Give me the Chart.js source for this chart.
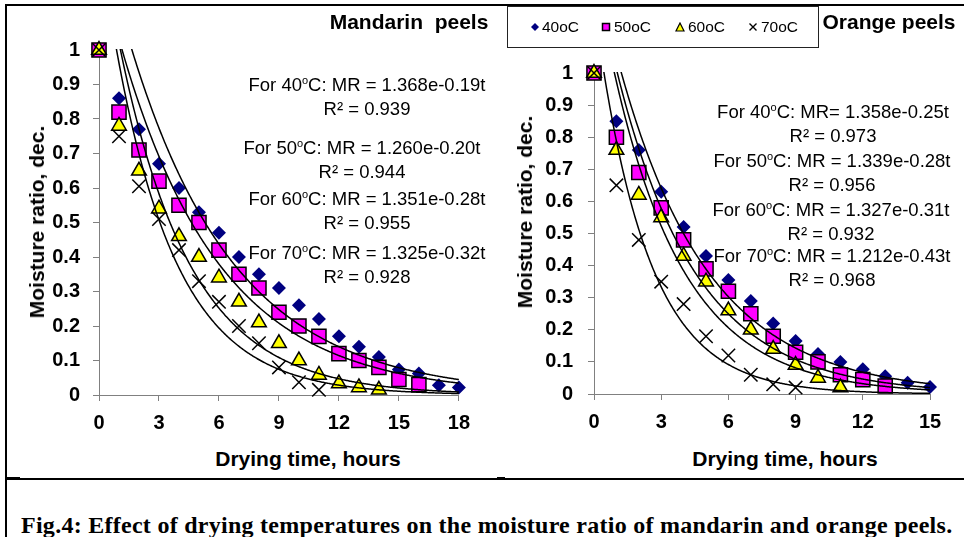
<!DOCTYPE html>
<html>
<head>
<meta charset="utf-8">
<script src="https://cdn.jsdelivr.net/npm/chart.js@4.4.0/dist/chart.umd.min.js"></script>
<style>
  body { margin: 0; background: #fff; }
  #page { position: relative; width: 964px; height: 537px; overflow: hidden;
          font-family: "Liberation Sans", Arial, sans-serif; color: #000; }
  canvas { position: absolute; }
  .txt { position: absolute; white-space: pre; transform: translate(-50%, -50%); }
  .title { font-weight: bold; font-size: 21px; }
  .axis { font-weight: bold; font-size: 21px; }
  .eq { font-size: 18.5px; line-height: 21px; text-align: center; }
  .deg { font-size: 11px; position: relative; top: -0.6em; }
  .leg { position: absolute; font-size: 15.5px; transform: translateY(-50%); white-space: nowrap; }
  .mk { position: absolute; transform: translate(-50%, -50%); }
  .line { position: absolute; background: #000; }
  #caption { position: absolute; left: 21px; top: 525px; transform: translateY(-50%);
             font-family: "Liberation Serif", "Times New Roman", serif; font-weight: bold;
             font-size: 24px; letter-spacing: 0.27px; white-space: nowrap; }
</style>
</head>
<body>
<div id="page">
  <div class="line" style="left:5px; top:4px; width:959px; height:2px;"></div>
  <div class="line" style="left:5px; top:4px; width:2px; height:533px;"></div>
  <div class="line" style="left:7px; top:478px; width:957px; height:1.5px;"></div>
  <div class="line" style="left:7px; top:477px; width:13px; height:2.5px;"></div>
  <div class="line" style="left:497px; top:477px; width:8px; height:2.5px;"></div>

  <canvas id="mandarin" width="480" height="440" style="left:0; top:0;"></canvas>
  <canvas id="orange" width="460" height="440" style="left:500px; top:0;"></canvas>

  <div class="txt title" style="left:409px; top:22px;">Mandarin  peels</div>
  <div class="txt title" style="left:889px; top:22px;">Orange peels</div>

  <div style="position:absolute; left:507px; top:6px; width:310px; height:40px; border:1px solid #222;"></div>
  <div id="legend"></div>

  <div class="txt axis" style="left:37px; top:222px; transform:translate(-50%,-50%) rotate(-90deg);">Moisture ratio, dec.</div>
  <div class="txt axis" style="left:525px; top:212px; transform:translate(-50%,-50%) rotate(-90deg);">Moisture ratio, dec.</div>
  <div class="txt axis" style="left:308px; top:459px;">Drying time, hours</div>
  <div class="txt axis" style="left:785px; top:459px;">Drying time, hours</div>

  <div id="equations"></div>

  <div id="caption">Fig.4: Effect of drying temperatures on the moisture ratio of mandarin and orange peels.</div>
</div>

<script>
// temperatures / legend
const temps = ['40', '50', '60', '70'];
const legendLabels = ['40oC', '50oC', '60oC', '70oC'];

// Mandarin peels
const mandarinTime = [0, 1, 2, 3, 4, 5, 6, 7, 8, 9, 10, 11, 12, 13, 14, 15, 16, 17, 18];
const mandarin40 = [1, 0.86, 0.77, 0.67, 0.60, 0.53, 0.47, 0.40, 0.35, 0.31, 0.26, 0.22, 0.17, 0.14, 0.11, 0.074, 0.062, 0.028, 0.022];
const mandarin50 = [1, 0.82, 0.71, 0.62, 0.55, 0.50, 0.42, 0.35, 0.31, 0.24, 0.20, 0.17, 0.12, 0.10, 0.08, 0.045, 0.03];
const mandarin60 = [1, 0.78, 0.65, 0.54, 0.46, 0.40, 0.34, 0.27, 0.21, 0.15, 0.10, 0.058, 0.033, 0.022, 0.015];
const mandarin70 = [1, 0.75, 0.605, 0.51, 0.42, 0.33, 0.27, 0.20, 0.15, 0.08, 0.037, 0.015];
const mandarinFitA = [1.368, 1.260, 1.351, 1.325];
const mandarinFitB = [0.19, 0.20, 0.28, 0.32];
const mandarinR2 = ['0.939', '0.944', '0.955', '0.928'];
const mandarinXTicks = [0, 3, 6, 9, 12, 15, 18];

// Orange peels
const orangeTime = [0, 1, 2, 3, 4, 5, 6, 7, 8, 9, 10, 11, 12, 13, 14, 15];
const orange40 = [1, 0.85, 0.76, 0.63, 0.52, 0.43, 0.355, 0.29, 0.22, 0.165, 0.125, 0.10, 0.077, 0.055, 0.035, 0.022];
const orange50 = [1, 0.80, 0.69, 0.58, 0.48, 0.39, 0.32, 0.25, 0.18, 0.13, 0.10, 0.06, 0.045, 0.025];
const orange60 = [1, 0.76, 0.62, 0.55, 0.43, 0.35, 0.26, 0.20, 0.14, 0.09, 0.05, 0.02];
const orange70 = [1, 0.65, 0.48, 0.35, 0.28, 0.18, 0.12, 0.06, 0.03, 0.02];
const orangeFitA = [1.358, 1.339, 1.327, 1.212];
const orangeFitB = [0.25, 0.28, 0.31, 0.43];
const orangeR2 = ['0.973', '0.956', '0.932', '0.968'];
const orangeXTicks = [0, 3, 6, 9, 12, 15];

const yTicks = [0, 0.1, 0.2, 0.3, 0.4, 0.5, 0.6, 0.7, 0.8, 0.9, 1];

const markers = [
  { style: 'rectRot', r: 7, bg: '#000080', border: '#000080', bw: 0 },
  { style: 'rect', r: 10, bg: '#FF00FF', border: '#000000', bw: 1.5 },
  { style: 'triangle', r: 8.5, bg: '#FFFF00', border: '#000000', bw: 1.5 },
  { style: 'crossRot', r: 9.5, bg: '#000000', border: '#000000', bw: 1.5 },
];

Chart.defaults.font.family = '"Liberation Sans", Arial, sans-serif';

// draws exponential trendlines MR = a*exp(-b*t) through the chart scales
const fitCurves = {
  id: 'fitCurves',
  afterDatasetsDraw(chart, args, opts) {
    const { ctx, chartArea: a, scales: { x, y } } = chart;
    ctx.save();
    ctx.beginPath();
    ctx.rect(a.left, a.top - 1, a.right - a.left, a.bottom - a.top + 1);
    ctx.clip();
    ctx.strokeStyle = '#000';
    ctx.lineWidth = 1.5;
    opts.a.forEach((A, k) => {
      const B = opts.b[k];
      ctx.beginPath();
      for (let i = 0; i <= 400; i++) {
        const t = x.min + (x.max - x.min) * i / 400;
        const px = x.getPixelForValue(t);
        const py = y.getPixelForValue(A * Math.exp(-B * t));
        if (i === 0) ctx.moveTo(px, py); else ctx.lineTo(px, py);
      }
      ctx.stroke();
    });
    ctx.restore();
  }
};

function makeChart(id, time, series, fitA, fitB, xTicks, box) {
  const datasets = series.map((vals, k) => ({
    data: vals.map((v, i) => ({ x: time[i], y: v })),
    pointStyle: markers[k].style,
    pointRadius: markers[k].r,
    backgroundColor: markers[k].bg,
    borderColor: markers[k].border,
    pointBorderWidth: markers[k].bw,
    showLine: false,
    clip: false,
    order: 4 - k,
  }));

  const axisCommon = {
    type: 'linear',
    grid: { drawOnChartArea: false, drawTicks: true, tickLength: 6, color: '#808080' },
    border: { color: '#808080', width: 1 },
  };

  return new Chart(document.getElementById(id), {
    type: 'scatter',
    data: { datasets },
    options: {
      responsive: false,
      animation: false,
      devicePixelRatio: 1,
      layout: { padding: { left: 0, right: box.right, top: box.top, bottom: 0 } },
      plugins: { legend: { display: false }, tooltip: { enabled: false }, fitCurves: { a: fitA, b: fitB } },
      scales: {
        x: {
          ...axisCommon,
          min: 0, max: xTicks[xTicks.length - 1],
          afterBuildTicks: s => { s.ticks = xTicks.map(v => ({ value: v })); },
          afterFit: s => { s.height = box.xHeight; },
          ticks: { color: '#000', font: { size: 20, weight: 'bold' }, padding: 10, maxRotation: 0, autoSkip: false },
        },
        y: {
          ...axisCommon,
          min: 0, max: 1,
          afterBuildTicks: s => { s.ticks = yTicks.map(v => ({ value: v })); },
          afterFit: s => { s.width = box.yWidth; },
          ticks: { color: '#000', font: { size: 20, weight: 'bold' }, padding: box.yPad, autoSkip: false,
                   callback: v => String(v) },
        },
      },
    },
    plugins: [fitCurves],
  });
}

makeChart('mandarin', mandarinTime, [mandarin40, mandarin50, mandarin60, mandarin70],
  mandarinFitA, mandarinFitB, mandarinXTicks, { right: 19, top: 50, xHeight: 45, yWidth: 99, yPad: 13 });
makeChart('orange', orangeTime, [orange40, orange50, orange60, orange70],
  orangeFitA, orangeFitB, orangeXTicks, { right: 30, top: 73, xHeight: 46, yWidth: 94, yPad: 15 });

// equations
function addEquations(fitA, fitB, r2, places, eqSign) {
  const holder = document.getElementById('equations');
  places.forEach((p, k) => {
    const d = document.createElement('div');
    d.className = 'txt eq';
    d.style.left = p[0] + 'px';
    d.style.top = p[1] + 'px';
    d.innerHTML = 'For ' + temps[k] + '<span class="deg">o</span>C: MR' + eqSign[k] +
      fitA[k].toFixed(3) + 'e-' + fitB[k].toFixed(2) + 't<br>R² = ' + r2[k];
    holder.appendChild(d);
  });
}
addEquations(mandarinFitA, mandarinFitB, mandarinR2,
  [[367, 95.5], [362, 158.5], [367, 210], [367, 264]], [' = ', ' = ', ' = ', ' = ']);
addEquations(orangeFitA, orangeFitB, orangeR2,
  [[833, 122.5], [832, 171.5], [831, 221], [832, 267]], ['= ', ' = ', ' = ', ' = ']);

// legend
const legendMarkerX = [535, 606, 680, 753];
const legendTextX = [542, 614, 688, 761];
const legendSvgs = [
  '<svg width="10" height="10"><polygon points="5,1 9,5 5,9 1,5" fill="#000080"/></svg>',
  '<svg width="10" height="10"><rect x="1.5" y="1.5" width="7" height="7" fill="#FF00FF" stroke="#000" stroke-width="1.5"/></svg>',
  '<svg width="10" height="10"><polygon points="5,1 9,9 1,9" fill="#FFFF00" stroke="#000" stroke-width="1.2"/></svg>',
  '<svg width="10" height="10"><path d="M1.5,1.5 L8.5,8.5 M8.5,1.5 L1.5,8.5" stroke="#000" stroke-width="1.4"/></svg>',
];
const leg = document.getElementById('legend');
legendLabels.forEach((lab, k) => {
  const m = document.createElement('div');
  m.className = 'mk';
  m.style.left = legendMarkerX[k] + 'px';
  m.style.top = '27px';
  m.innerHTML = legendSvgs[k];
  leg.appendChild(m);
  const t = document.createElement('div');
  t.className = 'leg';
  t.style.left = legendTextX[k] + 'px';
  t.style.top = '26.5px';
  t.textContent = lab;
  leg.appendChild(t);
});
</script>
</body>
</html>
